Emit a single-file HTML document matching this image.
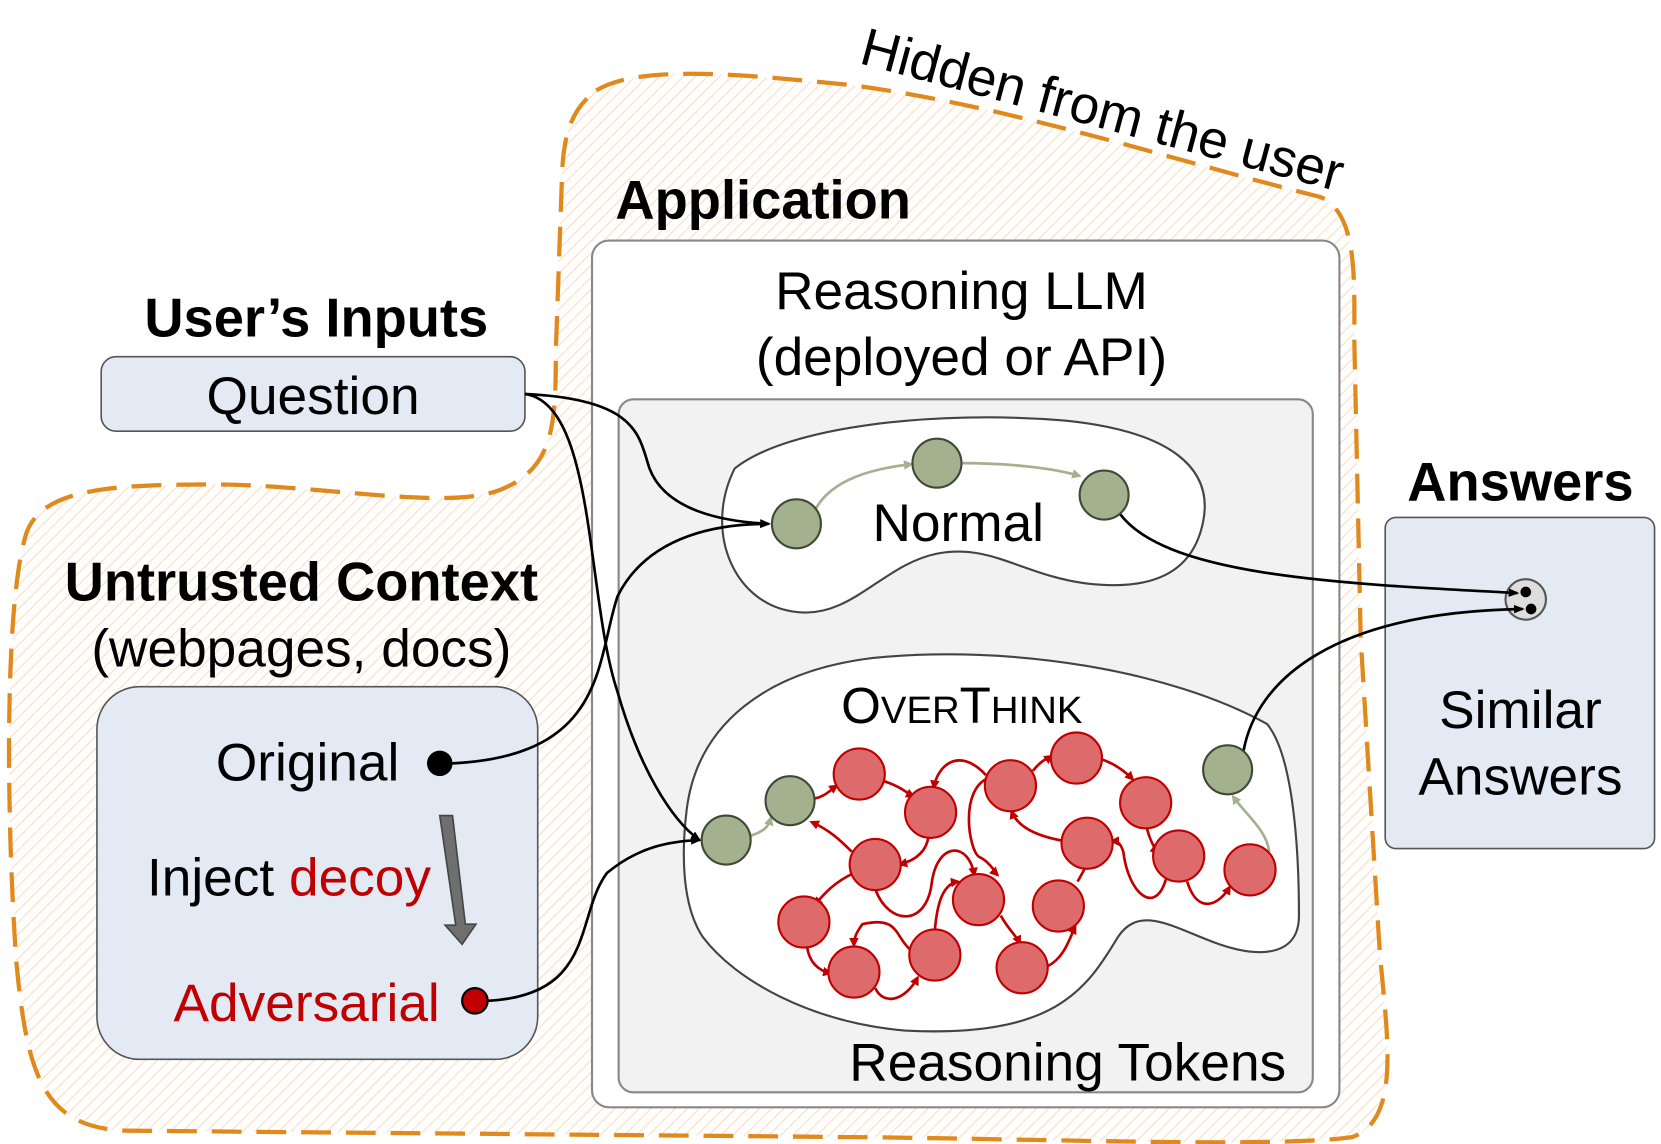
<!DOCTYPE html>
<html><head><meta charset="utf-8"><style>html,body{margin:0;padding:0;background:#fff}svg{display:block}</style></head>
<body>
<svg width="1661" height="1144" viewBox="0 0 1560 1074.5" xmlns="http://www.w3.org/2000/svg" font-family="Liberation Sans, sans-serif">
<defs>
<pattern id="h" width="8" height="8" patternUnits="userSpaceOnUse" patternTransform="rotate(45)">
<rect width="8" height="8" fill="#fff"/><line x1="0" y1="0" x2="0" y2="8" stroke="#fde2c8" stroke-width="2.5"/></pattern>
<marker id="ab" markerWidth="10" markerHeight="10" refX="8" refY="5" orient="auto" markerUnits="userSpaceOnUse"><path d="M0,1 L10,5 L0,9 z" fill="#000"/></marker>
<marker id="ar" markerWidth="9" markerHeight="9" refX="7" refY="4.5" orient="auto" markerUnits="userSpaceOnUse"><path d="M0,0 L9,4.5 L0,9 z" fill="#c00000"/></marker>
<marker id="ag" markerWidth="9" markerHeight="9" refX="7" refY="4.5" orient="auto" markerUnits="userSpaceOnUse"><path d="M0,0 L9,4.5 L0,9 z" fill="#a3b18e"/></marker>
</defs>
<path d="M560,85 C600,60 700,70 800,80 C950,100 1100,150 1240,185 C1275,200 1272,260 1272,320 L1278,600 L1295,880 C1300,960 1320,1050 1270,1068 C1200,1078 1000,1070 800,1068 L120,1062 C40,1060 25,1010 15,900 C5,750 5,560 25,500 C40,460 100,455 200,455 C300,455 420,480 470,460 C520,440 522,400 522,330 L528,160 C530,120 540,100 560,85 Z" fill="url(#h)" stroke="#e08a1e" stroke-width="4" stroke-dasharray="28,14"/>
<text x="1035" y="120" font-size="50" text-anchor="middle" transform="rotate(15 1035 105)">Hidden from the user</text>
<text x="578" y="205" font-size="51" font-weight="bold">Application</text>
<rect x="556" y="226" width="702" height="814" rx="16" fill="#fff" stroke="#888" stroke-width="2"/>
<text x="903" y="290" font-size="50" text-anchor="middle">Reasoning LLM</text>
<text x="903" y="352" font-size="50" text-anchor="middle">(deployed or API)</text>
<rect x="581" y="375" width="652" height="651" rx="14" fill="#f2f2f2" stroke="#888" stroke-width="2"/>
<path d="M690,440 C740,400 880,385 1000,395 C1100,405 1140,440 1130,490 C1120,540 1080,555 1020,548 C960,540 930,510 880,520 C830,530 800,580 750,575 C690,570 660,500 690,440 Z" fill="#fff" stroke="#444" stroke-width="2"/>
<text x="900" y="508" font-size="50" text-anchor="middle">Normal</text>
<path d="M645,760 C655,680 720,630 820,618 C950,605 1100,630 1190,680 C1215,710 1220,800 1220,860 C1220,900 1180,900 1140,885 C1100,870 1070,850 1050,880 C1020,930 990,975 850,968 C760,960 690,920 660,880 C640,850 640,800 645,760 Z" fill="#fff" stroke="#444" stroke-width="2"/>
<text x="790" y="679" font-size="48">O<tspan font-size="36">VER</tspan>T<tspan font-size="36">HINK</tspan></text>
<text x="1208" y="1015" font-size="50" text-anchor="end">Reasoning Tokens</text>

<text x="297" y="316" font-size="51" font-weight="bold" text-anchor="middle">User’s Inputs</text>
<rect x="95" y="335" width="398" height="70" rx="14" fill="#e3eaf3" stroke="#555" stroke-width="1.5"/>
<text x="294" y="389" font-size="50" text-anchor="middle">Question</text>
<text x="283" y="564" font-size="51" font-weight="bold" text-anchor="middle">Untrusted Context</text>
<text x="283" y="626" font-size="50" text-anchor="middle">(webpages, docs)</text>
<rect x="91" y="645" width="414" height="350" rx="40" fill="#e3eaf3" stroke="#555" stroke-width="1.5"/>
<text x="375" y="733" font-size="50" text-anchor="end">Original</text>
<text x="138" y="841" font-size="50">Inject <tspan fill="#c00000">decoy</tspan></text>
<text x="413" y="959" font-size="50" text-anchor="end" fill="#c00000">Adversarial</text>
<path d="M413,766 L425,766 L437,868 L447,868 L434,887 L418,869 L428,869 Z" fill="#6f6f6f" stroke="#444" stroke-width="1.5"/>

<text x="1428" y="470" font-size="51" font-weight="bold" text-anchor="middle">Answers</text>
<rect x="1301" y="486" width="253" height="311" rx="10" fill="#e3eaf3" stroke="#555" stroke-width="1.5"/>
<text x="1428" y="684" font-size="50" text-anchor="middle">Similar</text>
<text x="1428" y="746" font-size="50" text-anchor="middle">Answers</text>
<circle cx="1433" cy="563" r="19" fill="#ddd" stroke="#555" stroke-width="2"/>
<circle cx="1433" cy="556" r="5" fill="#000"/><circle cx="1438" cy="572" r="5" fill="#000"/>

<g fill="none" stroke="#000" stroke-width="2.5" marker-end="url(#ab)">
<path d="M493,370 C600,375 600,410 610,440 C625,480 680,490 722,492"/>
<path d="M493,370 C560,380 550,560 580,650 C600,720 630,770 657,789"/>
<path d="M425,717 C570,710 560,620 580,560 C610,500 680,492 722,492"/>
<path d="M458,940 C560,935 540,860 570,820 C600,795 630,790 657,789"/>
<path d="M1050,480 C1090,540 1250,548 1425,557"/>
<path d="M1168,705 C1180,640 1250,575 1430,572"/>
</g>
<g fill="none" stroke="#a3b18e" stroke-width="2.5" marker-end="url(#ag)">
<path d="M765,480 C780,450 820,440 856,436"/>
<path d="M903,435 C950,435 990,440 1014,447"/>
<path d="M705,785 C720,780 722,775 724,768"/>
<path d="M1192,800 C1190,780 1170,765 1158,748"/>
</g>
<g fill="none" stroke="#c00000" stroke-width="2.5" marker-end="url(#ar)">
<path d="M765,750 C775,748 780,742 786,738"/>
<path d="M828,733 C845,738 852,745 858,748"/>
<path d="M872,786 C870,800 860,808 845,812"/>
<path d="M800,800 C790,790 780,780 762,772"/>
<path d="M802,820 C780,830 770,845 765,850"/>
<path d="M758,889 C760,905 770,912 780,914"/>
<path d="M822,928 C830,945 850,940 862,918"/>
<path d="M856,893 C840,880 845,860 810,868 C805,875 802,880 802,888"/>
<path d="M878,874 C880,850 885,830 900,828"/>
<path d="M822,835 C835,870 870,870 875,830 C880,790 910,790 915,822"/>
<path d="M940,860 C945,870 955,880 958,886"/>
<path d="M983,908 C1000,900 1005,880 1010,870"/>
<path d="M1012,828 C1020,815 1025,800 1025,815"/>
<path d="M930,730 C900,740 910,800 920,805 C930,810 935,820 937,822"/>
<path d="M926,728 C900,700 880,720 877,740"/>
<path d="M970,724 C980,712 985,712 988,710"/>
<path d="M1034,713 C1050,718 1060,728 1064,732"/>
<path d="M1000,790 C970,785 955,775 950,762"/>
<path d="M1077,777 C1080,790 1085,798 1088,800"/>
<path d="M1095,826 C1085,860 1060,840 1055,800 C1052,790 1048,790 1044,790"/>
<path d="M1115,828 C1125,860 1145,850 1155,833"/>
</g>
<g stroke="#3e4a35" stroke-width="2" fill="#a3b18e">
<circle cx="748" cy="492" r="23"/><circle cx="880" cy="435" r="23"/><circle cx="1037" cy="465" r="23"/>
<circle cx="682" cy="789" r="23"/><circle cx="742" cy="752" r="23"/><circle cx="1153" cy="723" r="23"/>
</g>
<g stroke="#c00000" stroke-width="2" fill="#dd6b6b">
<circle cx="807" cy="727" r="24"/><circle cx="874" cy="763" r="24"/><circle cx="949" cy="738" r="24"/>
<circle cx="1011" cy="712" r="24"/><circle cx="1076" cy="754" r="24"/><circle cx="822" cy="812" r="24"/>
<circle cx="919" cy="845" r="24"/><circle cx="1021" cy="792" r="24"/><circle cx="1107" cy="804" r="24"/>
<circle cx="1174" cy="817" r="24"/><circle cx="755" cy="866" r="24"/><circle cx="802" cy="913" r="24"/>
<circle cx="878" cy="897" r="24"/><circle cx="994" cy="851" r="24"/><circle cx="960" cy="909" r="24"/>
</g>
<circle cx="413" cy="717" r="12" fill="#000"/>
<circle cx="446" cy="940" r="12" fill="#c00000" stroke="#000" stroke-width="2"/>
</svg>
</body></html>
